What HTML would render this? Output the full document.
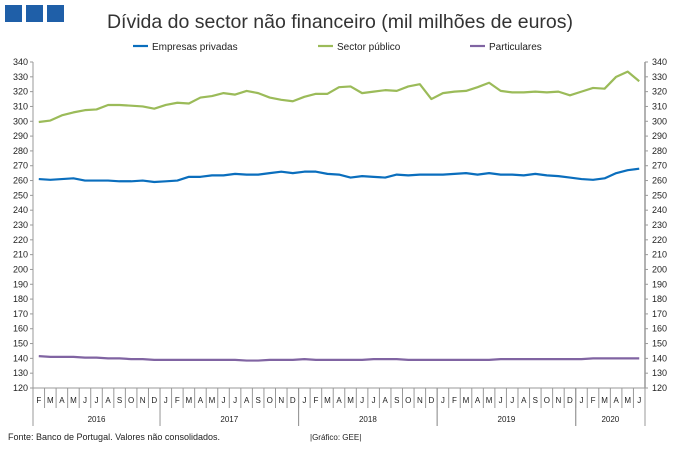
<!DOCTYPE html>
<html><head><meta charset="utf-8"><style>
body{margin:0;background:#fff;font-family:"Liberation Sans",sans-serif}
</style></head><body>
<svg width="680" height="450" xmlns="http://www.w3.org/2000/svg" font-family="Liberation Sans, sans-serif">
<rect x="5" y="5" width="17" height="17" fill="#1f5fa8"/>
<rect x="26" y="5" width="17" height="17" fill="#1f5fa8"/>
<rect x="47" y="5" width="17" height="17" fill="#1f5fa8"/>
<text x="340" y="28" text-anchor="middle" font-size="19.5" fill="#333">Dívida do sector não financeiro (mil milhões de euros)</text>
<g id="legend" font-size="10" fill="#222"></g>
<g id="axes"></g>
<g id="series"></g>
<text x="8" y="440" font-size="9" fill="#222">Fonte: Banco de Portugal. Valores não consolidados.</text>
<text x="310" y="440" font-size="8" fill="#222">|Gráfico: GEE|</text>
</svg>
<script>
const months=["F","M","A","M","J","J","A","S","O","N","D","J","F","M","A","M","J","J","A","S","O","N","D","J","F","M","A","M","J","J","A","S","O","N","D","J","F","M","A","M","J","J","A","S","O","N","D","J","F","M","A","M","J"];
const years=["2016","2017","2018","2019","2020"];
const yTicks=[120,130,140,150,160,170,180,190,200,210,220,230,240,250,260,270,280,290,300,310,320,330,340];
const publico=[299.5,300.5,304,306,307.5,308,311,311,310.5,310,308.5,311,312.5,312,316,317,319,318,320.5,319,316,314.5,313.5,316.5,318.5,318.5,323,323.5,319,320,321,320.5,323.5,325,315,319,320,320.5,323,326,320.5,319.5,319.5,320,319.5,320,317.5,320,322.5,322,330,333.5,327];
const privadas=[261,260.5,261,261.5,260,260,260,259.5,259.5,260,259,259.5,260,262.5,262.5,263.5,263.5,264.5,264,264,265,266,265,266,266,264.5,264,262,263,262.5,262,264,263.5,264,264,264,264.5,265,264,265,264,264,263.5,264.5,263.5,263,262,261,260.5,261.5,265,267,268];
const particulares=[141.5,141,141,141,140.5,140.5,140,140,139.5,139.5,139,139,139,139,139,139,139,139,138.5,138.5,139,139,139,139.5,139,139,139,139,139,139.5,139.5,139.5,139,139,139,139,139,139,139,139,139.5,139.5,139.5,139.5,139.5,139.5,139.5,139.5,140,140,140,140,140];
const NS="http://www.w3.org/2000/svg";
const L=33,R=645,T=62,B=388,ymin=120,ymax=340;
const n=months.length,cw=(R-L)/n;
const xc=i=>L+(i+0.5)*cw, y=v=>B-(v-ymin)/(ymax-ymin)*(B-T);
function mk(tag,attrs,parent,txt){const e=document.createElementNS(NS,tag);for(const k in attrs)e.setAttribute(k,attrs[k]);if(txt!==undefined)e.textContent=txt;parent.appendChild(e);return e;}
const ax=document.getElementById('axes');
let e;
e=mk('line',{x1:L,y1:T,x2:L,y2:B,stroke:'#999','stroke-width':1},ax);


e=mk('line',{x1:R,y1:T,x2:R,y2:B,stroke:'#999','stroke-width':1.5},ax);


e=mk('line',{x1:L,y1:B,x2:R,y2:B,stroke:'#999','stroke-width':1},ax);


yTicks.forEach(v=>{
  mk('line',{x1:L-3,y1:y(v),x2:L,y2:y(v),stroke:'#999'},ax);
  mk('line',{x1:R,y1:y(v),x2:R+3,y2:y(v),stroke:'#999'},ax);
  e=mk('text',{x:L-5,y:y(v)+3,'text-anchor':'end','font-size':9,fill:'#222'},ax,v);
  
  
  e=mk('text',{x:R+7,y:y(v)+3,'font-size':9,fill:'#222'},ax,v);
  
  
});
months.forEach((m,i)=>{
  mk('line',{x1:L+(i+1)*cw,y1:B,x2:L+(i+1)*cw,y2:B+20,stroke:'#999'},ax);
  e=mk('text',{x:xc(i),y:B+15,'text-anchor':'middle','font-size':8,fill:'#222'},ax,m);
  
  
});
let start=0;
years.forEach((yr,k)=>{
  let cnt=0;for(let i=start;i<n;i++){if(i>start&&months[i]==="J"&&months[i-1]==="D")break;cnt++;}
  const x0=L+start*cw,x1=L+(start+cnt)*cw;
  mk('line',{x1:x0,y1:B,x2:x0,y2:B+38,stroke:'#999'},ax);
  mk('line',{x1:x1,y1:B,x2:x1,y2:B+38,stroke:'#999'},ax);
  e=mk('text',{x:(x0+x1)/2,y:B+34,'text-anchor':'middle','font-size':8,fill:'#222'},ax,yr);
  
  
  start+=cnt;
});
const sg=document.getElementById('series');
[[privadas,'#0a6ebd','series-empresas-privadas'],[publico,'#9bbb59','series-sector-publico'],[particulares,'#8064a2','series-particulares']].forEach(([d,c,nm])=>{
  e=mk('polyline',{points:d.map((v,i)=>xc(i)+','+y(v)).join(' '),fill:'none',stroke:c,'stroke-width':2.2,'stroke-linejoin':'round'},sg);
  
  
});
const lg=document.getElementById('legend');
[['Empresas privadas','#0a6ebd',133],['Sector público','#9bbb59',318],['Particulares','#8064a2',470]].forEach(([t,c,x])=>{
  e=mk('line',{x1:x,y1:46,x2:x+15,y2:46,stroke:c,'stroke-width':2.2},lg);
  
  
  e=mk('text',{x:x+19,y:50,'font-size':10,fill:'#222'},lg,t);
  
  
});
</script>
</body></html>
